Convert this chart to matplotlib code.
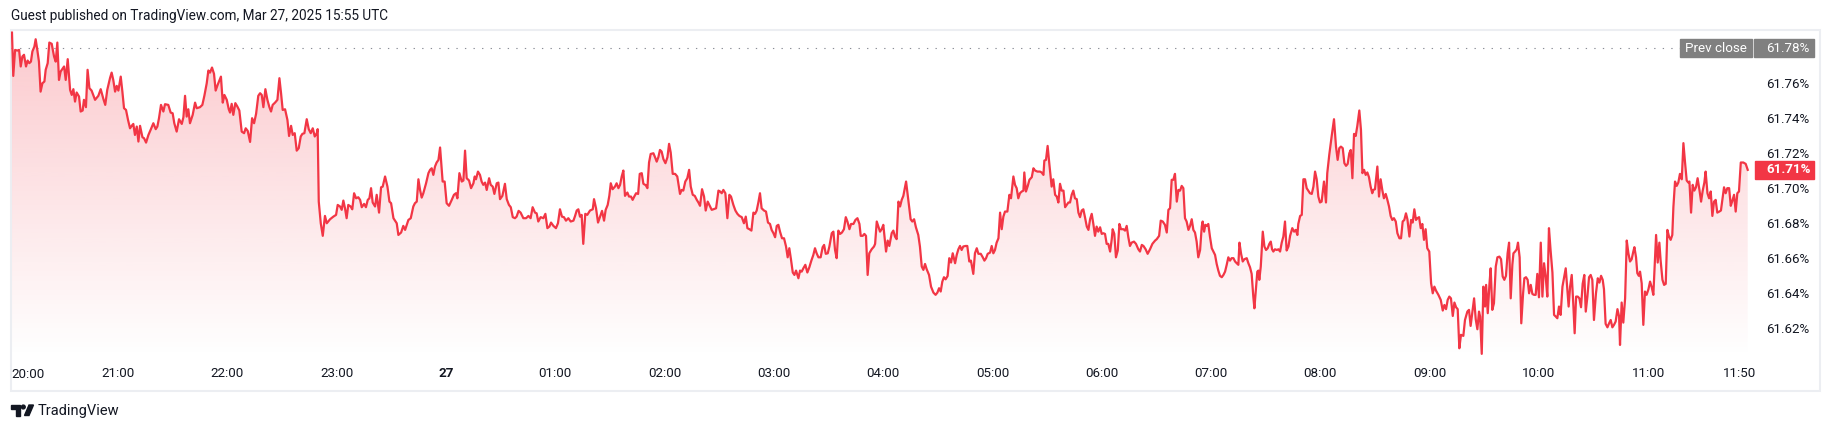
import matplotlib.pyplot as plt
import numpy as np
from matplotlib.colors import to_rgb
from matplotlib.patches import Rectangle, Polygon, Circle
from matplotlib.transforms import blended_transform_factory

plt.rcParams['font.family'] = ['Roboto', 'DejaVu Sans']

# minutes after 20:00 (Mar 26) and the value in %
mins = [
    1.8, 2.5, 3.5, 4.7, 5.7, 6.6, 7.5, 8.4, 9.5, 10.4, 11.3, 12.2, 13.0, 14.1, 14.8, 15.7,
    16.6, 17.5, 18.5, 19.6, 20.3, 21.4, 22.3, 23.6, 24.9, 25.8, 26.7, 27.6, 28.5, 30.4, 31.3,
    32.4, 33.7, 34.6, 35.5, 36.4, 37.3, 38.6, 39.5, 40.6, 41.3, 42.4, 43.3, 44.3, 45.5, 47.4,
    49.2, 50.5, 52.0, 53.0, 54.1, 55.6, 56.5, 57.4, 58.4, 59.3, 60.2, 61.5, 62.4, 63.3, 64.4,
    65.5, 66.6, 67.5, 68.4, 69.3, 70.3, 71.2, 72.1, 73.4, 74.3, 75.4, 76.7, 77.9, 79.4, 80.7,
    81.6, 82.5, 83.6, 84.9, 85.8, 87.6, 88.9, 90.0, 90.9, 92.2, 93.5, 95.0, 95.9, 96.8, 97.7,
    98.6, 99.5, 101.0, 102.3, 103.2, 105.0, 106.3, 107.4, 108.7, 109.6, 110.5, 111.6, 112.7,
    113.6, 114.7, 115.6, 116.5, 117.5, 118.4, 119.7, 120.8, 121.5, 122.4, 123.3, 124.4, 125.5,
    126.6, 127.9, 129.2, 130.1, 131.2, 132.5, 133.6, 134.7, 135.8, 137.0, 138.0, 138.9, 139.8,
    140.9, 142.0, 143.1, 144.0, 144.9, 146.2, 147.5, 148.6, 149.5, 150.4, 151.7, 153.0, 153.9,
    155.0, 155.9, 157.0, 158.1, 159.2, 160.3, 161.2, 162.3, 163.6, 164.7, 165.8, 166.9, 168.0,
    169.1, 169.6, 170.2, 171.3, 172.4, 173.6, 174.6, 176.4, 178.2, 179.7, 180.6, 181.9, 182.8,
    183.7, 184.6, 185.5, 186.4, 187.7, 188.6, 189.6, 190.7, 191.9, 192.9, 193.8, 195.1, 196.1,
    197.1, 198.0, 198.9, 199.8, 201.1, 202.0, 203.3, 204.4, 205.3, 206.6, 207.9, 209.0, 209.9,
    211.2, 212.1, 213.0, 213.9, 215.4, 216.6, 217.6, 218.5, 219.4, 220.7, 222.1, 223.0, 224.0,
    224.9, 225.8, 226.7, 227.6, 229.1, 230.4, 231.3, 232.2, 233.1, 234.0, 234.9, 235.9, 236.8,
    238.2, 239.3, 240.4, 241.7, 243.2, 244.4, 245.5, 246.3, 247.4, 248.7, 249.6, 250.5, 251.4,
    252.7, 253.8, 255.1, 255.8, 256.5, 257.6, 258.7, 259.6, 260.5, 261.5, 262.4, 263.7, 264.6,
    265.7, 266.6, 267.9, 268.8, 269.7, 271.0, 272.4, 273.4, 274.6, 275.6, 276.7, 277.9, 278.8,
    279.9, 281.0, 282.5, 284.0, 285.3, 286.5, 287.6, 288.9, 289.8, 290.7, 292.0, 293.5, 294.6,
    295.7, 296.8, 297.7, 299.0, 300.4, 301.5, 302.6, 303.7, 304.8, 305.9, 307.2, 308.5, 310.0,
    310.9, 311.8, 312.7, 313.6, 314.5, 315.4, 316.5, 317.6, 319.1, 320.6, 321.3, 322.4, 323.5,
    324.6, 325.7, 326.8, 327.7, 328.8, 329.7, 330.5, 331.5, 332.8, 333.7, 334.7, 335.6, 336.5,
    337.4, 338.3, 339.6, 340.5, 341.6, 342.5, 343.4, 344.4, 345.5, 346.4, 347.5, 348.4, 349.7,
    350.6, 351.5, 352.4, 353.9, 355.0, 355.7, 356.6, 357.5, 358.4, 359.4, 360.5, 361.6, 362.5,
    363.4, 364.5, 365.8, 367.0, 368.5, 369.4, 370.3, 371.4, 372.5, 373.5, 374.4, 375.5, 376.6,
    377.7, 378.6, 379.5, 380.6, 381.7, 382.6, 383.7, 384.6, 385.9, 386.8, 388.3, 389.6, 390.5,
    391.4, 392.3, 393.4, 394.5, 395.6, 396.5, 397.8, 398.9, 400.0, 401.1, 402.4, 403.6, 404.6,
    405.5, 406.6, 407.7, 408.8, 409.7, 410.6, 411.5, 412.4, 413.3, 414.6, 415.7, 416.8, 417.9,
    418.8, 419.8, 420.7, 421.6, 422.5, 423.4, 424.5, 425.6, 426.7, 427.6, 428.5, 429.4, 430.4,
    431.3, 432.2, 433.5, 434.4, 435.3, 436.2, 437.3, 438.4, 439.5, 440.6, 441.7, 442.6, 443.5,
    444.5, 445.7, 446.8, 447.6, 448.5, 449.6, 450.5, 451.8, 452.7, 453.6, 454.5, 455.4, 456.4,
    457.4, 458.5, 459.5, 460.4, 461.5, 462.4, 463.7, 464.8, 465.9, 467.0, 467.7, 468.8, 469.7,
    470.6, 471.5, 472.4, 473.7, 475.0, 475.6, 476.5, 477.4, 478.3,
    479.2, 480.1, 481.6, 482.5, 483.4, 484.7, 485.6, 486.5, 487.4, 488.4, 489.3, 490.2, 491.1,
    492.6, 493.8, 495.1, 496.0, 497.0, 498.0, 499.3, 500.2, 501.2, 502.1, 503.0, 503.9, 505.2,
    506.3, 507.6, 508.8, 509.8, 510.7, 511.6, 512.5, 513.4, 514.3, 515.4, 516.3, 517.3, 518.2,
    519.5, 520.4, 521.3, 522.2, 523.1, 524.0, 525.3, 526.2, 527.3, 528.2, 529.5, 530.4, 531.4,
    532.3, 533.6, 534.7, 535.6, 536.5, 537.4, 538.7, 539.6, 540.5, 541.4, 542.3, 543.3, 544.2,
    545.1, 546.0, 546.9, 548.2, 549.3, 550.2, 551.5, 552.4, 553.3, 554.2, 555.1, 556.1, 557.0,
    557.5, 558.4, 559.4, 560.3, 561.6, 562.5, 563.4, 564.7, 566.1, 567.0, 568.0, 568.5, 569.4,
    570.3, 571.2, 572.5, 573.4, 574.4, 575.3, 576.2, 577.1, 578.0, 579.0, 579.9, 580.8, 581.7,
    582.6, 583.5, 584.4, 585.3, 586.3, 587.2, 588.1, 589.0, 589.9, 590.8, 591.8, 592.7, 593.6,
    594.5, 595.4, 596.3, 597.2, 598.1, 599.1, 600.0, 600.9, 601.8, 602.7, 603.6, 604.6, 605.5,
    606.0, 606.9, 607.8, 608.8, 609.7, 610.6, 611.9, 612.8, 613.7, 614.6, 615.5, 616.4, 617.7,
    618.8, 620.1, 621.0, 622.0, 622.9, 624.1, 625.2, 626.5, 627.8, 629.3, 630.2, 631.5, 632.4,
    633.5, 634.7, 635.7, 636.6, 637.5, 638.4, 639.3, 640.2, 641.2, 642.1, 643.0, 643.9, 644.8,
    645.7, 646.6, 647.6, 648.5, 649.4, 650.3, 651.2, 652.1, 653.0, 654.0, 654.9, 655.4, 656.2,
    656.9, 657.6, 658.5, 659.4, 660.4, 661.3, 662.2, 663.1, 664.0, 664.9, 665.9, 666.8, 667.7,
    668.6, 669.5, 670.4, 671.3, 672.3, 673.2, 674.1, 675.0, 675.6, 676.5, 677.4, 678.3, 679.6,
    680.5, 681.4, 682.3, 683.2, 683.8, 684.5, 685.4, 686.0, 686.5, 687.3, 688.4, 689.3, 690.2,
    691.1, 692.0, 692.8, 693.5, 694.2, 695.1, 696.1, 697.0, 697.9, 698.8, 699.7, 700.6, 701.5,
    702.5, 703.4, 704.6, 705.6, 706.5, 707.4, 707.9, 708.9, 709.8, 710.7, 711.6, 712.5, 713.4,
    714.3, 715.3, 716.2, 717.1, 718.0, 718.9,
    719.8, 720.7, 722.0, 723.1, 723.8, 724.9, 726.2, 727.5, 728.6, 729.5, 730.4, 731.3, 732.3,
    733.2, 734.1, 735.0, 735.9, 736.7, 737.6, 738.5, 739.4, 740.3, 741.4, 742.3, 743.1, 744.0,
    744.9, 745.8, 746.7, 747.6, 748.5, 749.1, 750.0, 751.3, 752.2, 753.1, 754.0, 754.9, 755.9,
    756.8, 757.7, 758.6, 759.5, 760.4, 761.4, 762.3, 763.4, 764.3, 765.2, 766.1, 767.0, 767.8,
    768.9, 769.8, 770.7, 771.6, 772.5, 773.3, 774.2, 775.1, 776.0, 776.9, 777.8, 778.7, 779.8,
    780.8, 781.7, 782.6, 783.5, 784.8, 786.1, 787.2, 788.1, 789.0, 789.9, 790.8, 791.7, 792.7,
    793.6, 794.5, 795.4, 796.3, 797.2, 798.5, 799.4, 800.7, 801.6, 802.5, 803.4, 804.4, 805.3,
    806.2, 807.1, 807.7, 808.6, 809.5, 810.4, 811.0, 811.9, 812.8, 813.5, 814.4, 815.3, 816.3,
    817.2, 818.3, 819.2, 820.1, 821.0, 821.9, 822.8, 823.6, 824.5, 825.4, 826.0, 826.9, 827.8,
    828.5, 829.4, 830.3, 831.3, 832.0, 832.9, 833.8, 834.6, 835.5, 836.4, 837.3, 838.2, 839.1,
    840.0, 841.0, 841.9, 842.8, 843.7, 844.6, 845.5, 846.4, 847.4, 848.3, 849.2, 850.1, 851.0,
    851.9, 852.9, 853.8, 854.7, 855.6, 856.3, 857.1, 858.0, 858.9, 859.6, 860.4, 861.3, 862.2,
    863.1, 864.0, 864.9, 865.7, 866.6, 867.5, 868.4, 869.3, 870.2, 871.3, 872.3, 873.2, 874.1,
    875.0, 875.7, 876.6, 877.6, 878.5, 879.4, 880.3, 881.2, 882.1, 883.1, 884.0, 884.5, 885.4,
    886.3, 887.3, 888.2, 889.1, 890.0, 890.9, 891.8, 892.4, 893.3, 894.0, 894.8, 895.5, 896.4,
    897.3, 898.2, 899.1, 900.1, 901.0, 901.9, 902.8, 903.7, 904.3, 905.2, 906.1, 906.8, 907.8,
    908.7, 909.6, 910.5, 911.4, 912.3, 913.2, 913.8, 914.7, 915.6, 916.5, 917.4, 918.4, 919.3,
    920.2, 921.1, 922.0, 922.6, 923.5, 924.4, 925.3, 926.2, 927.1, 928.1, 929.0, 929.9, 930.8,
    931.5, 932.5, 933.4, 934.3, 935.2, 936.1, 937.0, 937.9, 939.0, 939.9, 940.9, 941.6, 942.5,
    943.4, 944.4, 945.3, 946.2, 947.1, 948.0, 948.9, 949.8, 950.8, 952.2, 953.5, 954.6,
]
vals = [
    61.7890, 61.7642, 61.7791, 61.7787, 61.7791, 61.7696, 61.7753, 61.7763, 61.7696, 61.7730,
    61.7715, 61.7724, 61.7782, 61.7810, 61.7852, 61.7791, 61.7724, 61.7552, 61.7600, 61.7610,
    61.7677, 61.7715, 61.7833, 61.7826, 61.7753, 61.7724, 61.7833, 61.7619, 61.7667, 61.7696,
    61.7619, 61.7738, 61.7562, 61.7533, 61.7566, 61.7495, 61.7547, 61.7524, 61.7438, 61.7444,
    61.7505, 61.7463, 61.7677, 61.7572, 61.7558, 61.7505, 61.7528, 61.7566, 61.7509, 61.7476,
    61.7562, 61.7629, 61.7661, 61.7619, 61.7552, 61.7585, 61.7558, 61.7638, 61.7552, 61.7457,
    61.7447, 61.7390, 61.7342, 61.7356, 61.7367, 61.7304, 61.7352, 61.7266, 61.7356, 61.7291,
    61.7285, 61.7260, 61.7304, 61.7333, 61.7371, 61.7337, 61.7352, 61.7400, 61.7476, 61.7438,
    61.7480, 61.7476, 61.7432, 61.7428, 61.7371, 61.7323, 61.7394, 61.7367, 61.7405, 61.7528,
    61.7409, 61.7451, 61.7371, 61.7419, 61.7489, 61.7457, 61.7463, 61.7476, 61.7528, 61.7600,
    61.7673, 61.7661, 61.7690, 61.7654, 61.7558, 61.7591, 61.7614, 61.7638, 61.7489, 61.7533,
    61.7505, 61.7451, 61.7432, 61.7482, 61.7419, 61.7486, 61.7467, 61.7444, 61.7323, 61.7314,
    61.7342, 61.7327, 61.7264, 61.7400, 61.7371, 61.7425, 61.7528, 61.7543, 61.7533, 61.7463,
    61.7566, 61.7505, 61.7463, 61.7438, 61.7476, 61.7489, 61.7505, 61.7629, 61.7543, 61.7447,
    61.7451, 61.7390, 61.7298, 61.7356, 61.7304, 61.7314, 61.7214, 61.7228, 61.7295, 61.7310,
    61.7314, 61.7394, 61.7337, 61.7314, 61.7342, 61.7295, 61.7314, 61.7337, 61.6922, 61.6798,
    61.6726, 61.6840, 61.6798, 61.6821, 61.6836, 61.6846, 61.6903, 61.6894, 61.6875, 61.6928,
    61.6884, 61.6827, 61.6903, 61.6894, 61.6878, 61.6970, 61.6941, 61.6947, 61.6932, 61.6890,
    61.6909, 61.6890, 61.6932, 61.6941, 61.6999, 61.6917, 61.6894, 61.6961, 61.6859, 61.7004,
    61.7008, 61.7066, 61.7008, 61.6922, 61.6913, 61.6827, 61.6812, 61.6798, 61.6731, 61.6745,
    61.6783, 61.6760, 61.6789, 61.6817, 61.6827, 61.6894, 61.6913, 61.6922, 61.7050, 61.6989,
    61.6945, 61.6970, 61.7027, 61.7085, 61.7104, 61.7113, 61.7075, 61.7123, 61.7146, 61.7161,
    61.7232,
    61.7037, 61.7037, 61.6913, 61.6898, 61.6932, 61.6961, 61.6970, 61.6941, 61.7085, 61.7037,
    61.7043, 61.7214, 61.7056, 61.7043, 61.6999, 61.7027, 61.7066, 61.7050, 61.7094, 61.7075,
    61.7037, 61.7018, 61.7031, 61.6989, 61.7056, 61.7018, 61.7008, 61.6966, 61.7027, 61.7031,
    61.6936, 61.6955, 61.7024, 61.6936, 61.6903, 61.6890, 61.6833, 61.6827, 61.6836, 61.6869,
    61.6859, 61.6827, 61.6827, 61.6840, 61.6827, 61.6890, 61.6859, 61.6855, 61.6808, 61.6833,
    61.6827, 61.6852, 61.6770, 61.6779, 61.6802, 61.6783, 61.6770, 61.6798, 61.6878, 61.6836,
    61.6833, 61.6813, 61.6827, 61.6808, 61.6813, 61.6840, 61.6871, 61.6878, 61.6836, 61.6846,
    61.6680, 61.6852, 61.6846, 61.6871, 61.6878, 61.6936, 61.6884, 61.6802, 61.6836, 61.6869,
    61.6813, 61.6875, 61.6903, 61.6955, 61.7027, 61.6993, 61.7008, 61.7027, 61.6999, 61.7018,
    61.7066, 61.7100, 61.6955, 61.6974, 61.6951, 61.6951, 61.6932, 61.6951, 61.6970, 61.6966,
    61.7081, 61.7085, 61.7024, 61.7016, 61.6999, 61.7146, 61.7195, 61.7199, 61.7171, 61.7151,
    61.7176, 61.7218, 61.7209, 61.7165, 61.7142, 61.7176, 61.7253, 61.7203, 61.7081, 61.7081,
    61.7066, 61.6966, 61.6989, 61.6985, 61.7037, 61.7056, 61.7104, 61.7008, 61.6961, 61.6955,
    61.6932, 61.6917, 61.6898, 61.6993, 61.6951, 61.6871, 61.6922, 61.6903, 61.6875, 61.6878,
    61.6884, 61.6985, 61.6980, 61.6970, 61.6989, 61.6970, 61.6827, 61.6961, 61.6951, 61.6903,
    61.6871, 61.6852, 61.6840, 61.6833, 61.6798, 61.6836, 61.6770, 61.6764, 61.6756, 61.6859,
    61.6852, 61.6871, 61.6917, 61.6970, 61.6884, 61.6871, 61.6865, 61.6802, 61.6794, 61.6760,
    61.6741, 61.6718, 61.6783, 61.6789, 61.6750, 61.6712, 61.6712, 61.6665, 61.6603, 61.6655,
    61.6592, 61.6516, 61.6502, 61.6527, 61.6483, 61.6527, 61.6521, 61.6540, 61.6560, 61.6516,
    61.6546, 61.6584, 61.6617, 61.6655, 61.6626, 61.6603, 61.6603, 61.6661, 61.6674, 61.6623,
    61.6626, 61.6665, 61.6741, 61.6750, 61.6645, 61.6598, 61.6756, 61.6737, 61.6745, 61.6764,
    61.6833, 61.6808, 61.6764, 61.6794, 61.6794, 61.6817, 61.6827, 61.6794, 61.6726, 61.6726,
    61.6737, 61.6726, 61.6502, 61.6626, 61.6649, 61.6665, 61.6680, 61.6808, 61.6779, 61.6750,
    61.6764, 61.6789, 61.6636, 61.6699, 61.6668, 61.6741, 61.6756, 61.6722, 61.6707, 61.6922,
    61.6894, 61.6932, 61.6955, 61.7037, 61.6932, 61.6821, 61.6808, 61.6821, 61.6775, 61.6731,
    61.6665, 61.6550, 61.6531, 61.6565, 61.6535, 61.6502, 61.6435, 61.6401, 61.6388, 61.6401,
    61.6426, 61.6407, 61.6464, 61.6489, 61.6477, 61.6496, 61.6598, 61.6573, 61.6626, 61.6569,
    61.6617, 61.6649, 61.6668, 61.6645, 61.6665, 61.6668, 61.6668, 61.6579, 61.6584, 61.6508,
    61.6626, 61.6655, 61.6623, 61.6623, 61.6603, 61.6584, 61.6598, 61.6623, 61.6630, 61.6668,
    61.6626, 61.6645, 61.6687, 61.6712, 61.6859, 61.6764, 61.6836, 61.6865, 61.6865, 61.6961,
    61.6941, 61.7066, 61.7018, 61.6999, 61.6941, 61.6970, 61.6980, 61.6985, 61.7089, 61.6980,
    61.7012, 61.7047, 61.7062, 61.7113, 61.7100, 61.7094, 61.7094, 61.7089, 61.7075, 61.7157,
    61.7161, 61.7241, 61.7142, 61.7008, 61.7050, 61.6961, 61.6951, 61.6917, 61.7024, 61.6985,
    61.6985, 61.6890, 61.6903, 61.6917, 61.6917, 61.6961, 61.6985, 61.6941, 61.6936, 61.6859,
    61.6833, 61.6871, 61.6878, 61.6833, 61.6779, 61.6760, 61.6821, 61.6852, 61.6794, 61.6726,
    61.6779, 61.6750, 61.6775, 61.6737, 61.6741, 61.6737, 61.6680, 61.6680, 61.6636, 61.6707,
    61.6764, 61.6737, 61.6603, 61.6642, 61.6794, 61.6764, 61.6764, 61.6756, 61.6783, 61.6718,
    61.6668, 61.6687, 61.6693, 61.6680, 61.6649, 61.6636, 61.6674, 61.6668, 61.6649, 61.6623,
    61.6649, 61.6680, 61.6699, 61.6707, 61.6726, 61.6813, 61.6808, 61.6789, 61.6745, 61.6875,
    61.6884, 61.7047, 61.7047, 61.7081, 61.6922, 61.6989, 61.6985, 61.7012, 61.6999, 61.6827,
    61.6808, 61.6760, 61.6783, 61.6821, 61.6760, 61.6745, 61.6693, 61.6603, 61.6645, 61.6779,
    61.6808, 61.6750, 61.6789, 61.6783, 61.6794, 61.6722, 61.6655, 61.6636, 61.6617, 61.6565,
    61.6527, 61.6497, 61.6489, 61.6502, 61.6521, 61.6560, 61.6603, 61.6584, 61.6598, 61.6598,
    61.6579, 61.6569, 61.6560, 61.6687, 61.6623, 61.6579, 61.6592, 61.6598, 61.6569, 61.6546,
    61.6508, 61.6378, 61.6311, 61.6401, 61.6521, 61.6527, 61.6474, 61.6550, 61.6750, 61.6665,
    61.6645, 61.6655, 61.6680, 61.6693, 61.6649, 61.6636, 61.6649, 61.6645, 61.6649, 61.6636,
    61.6687, 61.6722, 61.6808, 61.6642, 61.6665, 61.6726, 61.6770, 61.6750, 61.6760, 61.6731,
    61.6794, 61.6840, 61.6846, 61.7050, 61.7050, 61.6999, 61.6985, 61.6970, 61.6966, 61.7008,
    61.7094, 61.7050, 61.6951,
    61.6917, 61.6922, 61.7037, 61.6917, 61.7085, 61.7190, 61.7295, 61.7394, 61.7237, 61.7161,
    61.7228, 61.7237, 61.7228, 61.7142, 61.7127, 61.7138, 61.7199, 61.7218, 61.7056, 61.7310,
    61.7298, 61.7356, 61.7444, 61.7333, 61.7085, 61.7104, 61.7075, 61.7089, 61.7062, 61.7008,
    61.6970, 61.6989, 61.6993, 61.7123, 61.6951, 61.7050, 61.6989, 61.6941, 61.6966, 61.6932,
    61.6894, 61.6840, 61.6817, 61.6827, 61.6808, 61.6741, 61.6712, 61.6712, 61.6808, 61.6817,
    61.6855, 61.6821, 61.6722, 61.6817, 61.6802, 61.6878, 61.6817, 61.6827, 61.6833, 61.6770,
    61.6794, 61.6703, 61.6764, 61.6655, 61.6636, 61.6454, 61.6397, 61.6435, 61.6412, 61.6388,
    61.6359, 61.6298, 61.6330, 61.6306, 61.6359, 61.6378, 61.6368, 61.6267, 61.6344, 61.6317,
    61.6306, 61.6082, 61.6159, 61.6153, 61.6244, 61.6292, 61.6302, 61.6210, 61.6283, 61.6368,
    61.6248, 61.6191, 61.6292, 61.6264, 61.6050, 61.6435, 61.6321, 61.6445, 61.6283, 61.6445,
    61.6540, 61.6302, 61.6340, 61.6550, 61.6603, 61.6607, 61.6592, 61.6493, 61.6474, 61.6497,
    61.6626, 61.6687, 61.6368, 61.6560, 61.6626, 61.6636, 61.6649, 61.6687, 61.6603, 61.6225,
    61.6397, 61.6483, 61.6489, 61.6474, 61.6397, 61.6445, 61.6393, 61.6388, 61.6388, 61.6508,
    61.6374, 61.6687, 61.6378, 61.6569, 61.6493, 61.6378, 61.6770, 61.6642, 61.6516, 61.6273,
    61.6264, 61.6254, 61.6321, 61.6273, 61.6435, 61.6489, 61.6540, 61.6416, 61.6321, 61.6435,
    61.6502, 61.6325, 61.6168, 61.6378, 61.6378, 61.6368, 61.6317, 61.6451, 61.6502, 61.6292,
    61.6378, 61.6489, 61.6502, 61.6474, 61.6244, 61.6397, 61.6483, 61.6458, 61.6497, 61.6474,
    61.6420, 61.6222, 61.6202, 61.6225, 61.6244, 61.6202, 61.6216, 61.6235, 61.6306, 61.6264,
    61.6101, 61.6344, 61.6229, 61.6368, 61.6699, 61.6626, 61.6579, 61.6592, 61.6636, 61.6661,
    61.6603, 61.6512, 61.6497, 61.6521, 61.6454, 61.6216, 61.6407, 61.6388, 61.6420, 61.6464,
    61.6432, 61.6388, 61.6592, 61.6731, 61.6573, 61.6687, 61.6584, 61.6474, 61.6445, 61.6451,
    61.6760, 61.6722, 61.6703, 61.6731, 61.6890, 61.7037, 61.7012, 61.7031, 61.7081, 61.7050,
    61.7257, 61.7146, 61.7043, 61.7031, 61.7037, 61.6859, 61.7018, 61.6985, 61.7004, 61.7056,
    61.6989, 61.6922, 61.6985, 61.7031, 61.7094, 61.6970, 61.6941, 61.6980, 61.6840, 61.6922,
    61.6932, 61.6859, 61.6865, 61.6871, 61.6947, 61.7004, 61.6970, 61.6999, 61.6999, 61.6898,
    61.6928, 61.6961, 61.6865, 61.6970, 61.6980, 61.7146, 61.7146, 61.7138, 61.7104,
]

prev_close = 61.78
y_ticks = [61.62, 61.64, 61.66, 61.68, 61.70, 61.72, 61.74, 61.76]
x_ticks = [60, 120, 180, 240, 300, 360, 420, 480, 540, 600, 660, 720, 780, 840, 900, 950]
x_labels = ['21:00', '22:00', '23:00', '27', '01:00', '02:00', '03:00', '04:00',
            '05:00', '06:00', '07:00', '08:00', '09:00', '10:00', '11:00', '11:50']
first_label = '20:00'
header = 'Guest published on TradingView.com, Mar 27, 2025 15:55 UTC'

RED = '#F23645'
TEXT = '#131722'
GRAY = '#808080'
W, H = 1831, 430

fig = plt.figure(figsize=(W / 100, H / 100), dpi=100)
fig.patch.set_facecolor('white')

# pane edges in pixels
pl, pr, pt, pb = 11, 1755, 30, 357
ax = fig.add_axes([pl / W, 1 - pb / H, (pr - pl) / W, (pb - pt) / H])
ax.set_facecolor('none')
xlo, xhi = 1.26, 958.6
ylo, yhi = 61.6032, 61.7905

# gradient area under the line
grad = np.zeros((256, 1, 4))
grad[..., :3] = to_rgb(RED)
grad[:, 0, 3] = np.linspace(0.27, 0.0, 256)
im = ax.imshow(grad, extent=[xlo, xhi, ylo, yhi], origin='upper', aspect='auto', zorder=1)
area = ax.fill_between(mins, vals, ylo, facecolor='none', edgecolor='none')
im.set_clip_path(area.get_paths()[0], transform=ax.transData)

ax.plot(mins, vals, color=RED, lw=1.6, zorder=3, solid_joinstyle='round')
ax.set_xlim(xlo, xhi)
ax.set_ylim(ylo, yhi)


def fx(px):
    return (px - pl) / (pr - pl)


# previous close dotted line
ax.axhline(prev_close, xmin=0, xmax=fx(1680), color='#8a8d96', lw=0.8,
           linestyle=(0, (1.2, 6.5)), zorder=2)

for s in ax.spines.values():
    s.set_visible(False)

ax.yaxis.tick_right()
ax.set_yticks(y_ticks, [f'{v:.2f}%' for v in y_ticks])
ax.tick_params(axis='y', length=0, pad=8, labelsize=9.6, labelcolor=TEXT)
ax.set_xticks(x_ticks, x_labels)
ax.tick_params(axis='x', length=0, pad=7, labelsize=9.6, labelcolor=TEXT)
for lab in ax.get_xticklabels():
    if lab.get_text() == '27':
        lab.set_fontweight('bold')
ax.text(0, -0.055, first_label, transform=ax.transAxes, ha='left', va='center',
        fontsize=9.6, color=TEXT)

# labels on the price scale
tr = blended_transform_factory(ax.transAxes, ax.transData)
hh = 9 / 1745.7
ax.add_patch(Rectangle((fx(1680), prev_close - hh), fx(1752) - fx(1680), 2 * hh,
                       transform=tr, color=GRAY, clip_on=False, zorder=5))
ax.add_patch(Rectangle((fx(1754), prev_close - hh), fx(1814) - fx(1754), 2 * hh,
                       transform=tr, color=GRAY, clip_on=False, zorder=5))
ax.text(fx(1716), prev_close, 'Prev close', transform=tr, ha='center', va='center',
        color='white', fontsize=9.6, zorder=6, clip_on=False)
ax.text(fx(1766), prev_close, f'{prev_close:.2f}%', transform=tr, ha='left', va='center',
        color='white', fontsize=9.6, zorder=6, clip_on=False)

last = vals[-1]
ax.add_patch(Rectangle((1.0, last - hh), fx(1814) - 1.0, 2 * hh,
                       transform=tr, color=RED, clip_on=False, zorder=5))
ax.text(fx(1766), last, f'{last:.2f}%', transform=tr, ha='left', va='center',
        color='white', fontsize=9.6, fontweight='bold', zorder=6, clip_on=False)

# frame, header and logo in pixel space
ov = fig.add_axes([0, 0, 1, 1], zorder=-1)
ov.set_xlim(0, W)
ov.set_ylim(H, 0)
ov.axis('off')
ov.add_patch(Rectangle((11, 30), 1809, 361, fill=False, ec='#eceef2', lw=1.5))
ov.text(11, 16, header, ha='left', va='center', fontsize=9.8, color=TEXT)
ov.add_patch(Polygon([(11, 405), (20.5, 405), (20.5, 415.5), (16, 415.5), (16, 409), (11, 409)],
                     closed=True, color=TEXT))
ov.add_patch(Circle((23.3, 407), 1.9, color=TEXT))
ov.add_patch(Polygon([(24.5, 415.5), (29, 415.5), (33.5, 405), (29, 405)], closed=True, color=TEXT))
ov.text(38, 410.5, 'TradingView', ha='left', va='center', fontsize=10.5, color=TEXT)

fig.savefig('out.png', dpi=100, facecolor='white')
